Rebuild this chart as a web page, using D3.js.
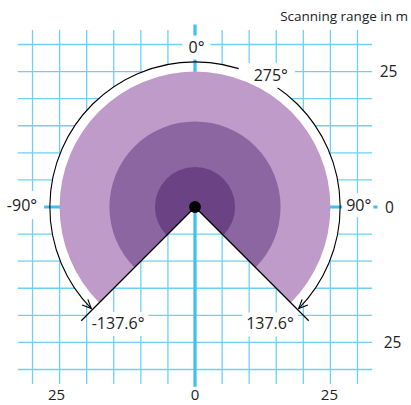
<!DOCTYPE html>
<html>
<head>
<meta charset="utf-8">
<script src="https://cdn.jsdelivr.net/npm/d3@7/dist/d3.min.js"></script>
<style>
  html, body { margin: 0; padding: 0; background: #fff; }
  svg { display: block; }
  text { font-family: "Open Sans", "Noto Sans", sans-serif; fill: #222; }
</style>
</head>
<body>
<svg id="chart" width="411" height="405"></svg>
<script>
// ---------- data (metres / degrees) ----------
const gridTicks = [-30, -25, -20, -15, -10, -5, 0, 5, 10, 15, 20, 25, 30];
const rightLabelValues = [25, 0, -25];
const bottomLabelValues = [-25, 0, 25];
const rangeRadii = [25, 15.8, 7.4];          // outer, middle, inner field (m)
const sectorHalfAngle = 135;                 // drawn opening half-angle (deg)
const angleLabels = ["0°", "275°", "-90°", "90°", "-137.6°", "137.6°"];
const arcRadius = 26.8;                      // dimension arc radius (m)
const edgeLineLength = 29.7;                 // wedge edge line length (m)
const unitLabel = "Scanning range in m";

// ---------- layout ----------
const svg = d3.select("#chart");
const cx = 195, cy = 207, pxPerM = 5.416;
const x = d3.scaleLinear().domain([-30, 30]).range([cx - 30 * pxPerM, cx + 30 * pxPerM]);
const y = d3.scaleLinear().domain([30, -30]).range([cy - 30 * pxPerM, cy + 30 * pxPerM]);
const r = d3.scaleLinear().domain([0, 30]).range([0, 30 * pxPerM]);
const rad = d => d * Math.PI / 180;

const thinColor = "#6fd0f3", thickColor = "#3fc0ef";
const ringColors = ["#bf9bc9", "#8c66a0", "#6b4385"];

// layer order
const gridG = svg.append("g");
const whiteG = svg.append("g").attr("transform", `translate(${x(0)},${y(0)})`);
const thickG = svg.append("g");
const arcG = svg.append("g");
const bgG = svg.append("g");
const sectorG = svg.append("g").attr("transform", `translate(${x(0)},${y(0)})`);
const edgeG = svg.append("g").attr("transform", `translate(${x(0)},${y(0)})`);
const textG = svg.append("g");

// thin grid
const gExt = 32.7;
gridG.selectAll("line.v").data(gridTicks).join("line").attr("class", "v")
  .attr("x1", d => x(d)).attr("x2", d => x(d))
  .attr("y1", y(gExt)).attr("y2", y(-gExt))
  .attr("stroke", thinColor).attr("stroke-width", 1.3);
gridG.selectAll("line.h").data(gridTicks).join("line").attr("class", "h")
  .attr("y1", d => y(d)).attr("y2", d => y(d))
  .attr("x1", x(-gExt)).attr("x2", x(gExt))
  .attr("stroke", thinColor).attr("stroke-width", 1.3);

// white field behind sectors
whiteG.append("path")
  .attr("d", d3.arc()({innerRadius: 0, outerRadius: r(arcRadius),
    startAngle: rad(-sectorHalfAngle), endAngle: rad(sectorHalfAngle)}))
  .attr("fill", "#fff");

// thick axes
thickG.append("line").attr("x1", x(0)).attr("x2", x(0)).attr("y1", y(33.7)).attr("y2", y(-33.2))
  .attr("stroke", thickColor).attr("stroke-width", 3.2);
thickG.append("line").attr("y1", y(0)).attr("y2", y(0)).attr("x1", x(-33.7)).attr("x2", x(33.7))
  .attr("stroke", thickColor).attr("stroke-width", 3.2);

// arrow marker
const defs = svg.append("defs");
defs.append("marker").attr("id", "arr")
  .attr("viewBox", "-10 -6 12 12").attr("refX", 0).attr("refY", 0)
  .attr("markerWidth", 12).attr("markerHeight", 12)
  .attr("markerUnits", "userSpaceOnUse")
  .attr("orient", "auto-start-reverse")
  .append("path").attr("d", "M-9,-4 L0,0 L-9,4")
  .attr("fill", "none").attr("stroke", "#000").attr("stroke-width", 1.1);

// dimension arc
const arcEnd = sectorHalfAngle - 0.6;
const p = d3.path();
const ar = r(arcRadius);
const a0 = rad(-arcEnd - 90), a1 = rad(arcEnd - 90);
p.moveTo(x(0) + ar * Math.cos(a0), y(0) + ar * Math.sin(a0));
p.arc(x(0), y(0), ar, a0, a1, false);
arcG.append("path").attr("d", p.toString())
  .attr("fill", "none").attr("stroke", "#000").attr("stroke-width", 1.1)
  .attr("marker-start", "url(#arr)").attr("marker-end", "url(#arr)");

// sectors
rangeRadii.forEach((rv, i) => {
  sectorG.append("path")
    .attr("d", d3.arc()({innerRadius: 0, outerRadius: r(rv),
      startAngle: rad(-sectorHalfAngle), endAngle: rad(sectorHalfAngle)}))
    .attr("fill", ringColors[i]);
});

// wedge edge lines + centre dot
[-sectorHalfAngle, sectorHalfAngle].forEach(a => {
  edgeG.append("line").attr("x1", 0).attr("y1", 0)
    .attr("x2", r(edgeLineLength) * Math.sin(rad(a)))
    .attr("y2", -r(edgeLineLength) * Math.cos(rad(a)))
    .attr("stroke", "#000").attr("stroke-width", 1.2);
});
edgeG.append("circle").attr("r", 5.9).attr("fill", "#000");

// angle labels with white backgrounds
const labelPos = [[0.28, 29.45], [14.0, 24.4], [-31.94, 0.37], [30.24, 0.37], [-14.2, -21.4], [13.85, -21.5]];
const labelPad = [[6, 6, 1, 1], [15, 7, 1, 2], [4, 7, 3, 3], [4, 2, 1, 1], [4, 4, 0, 2], [4, 4, 0, 2]];
angleLabels.forEach((t, i) => {
  const tx = textG.append("text").attr("x", x(labelPos[i][0])).attr("y", y(labelPos[i][1]))
    .attr("text-anchor", "middle").attr("dominant-baseline", "central")
    .attr("font-size", 16).text(t);
  const b = tx.node().getBBox();
  const pd = labelPad[i];
  bgG.append("rect").attr("x", b.x - pd[0]).attr("y", b.y - pd[2])
    .attr("width", b.width + pd[0] + pd[1]).attr("height", b.height + pd[2] + pd[3])
    .attr("fill", "#fff");
});

// axis labels: right side (y), bottom (x)
textG.append("g").selectAll("text").data(rightLabelValues).join("text")
  .attr("x", (d, i) => [388.5, 389.5, 392.5][i]).attr("y", d => y(d) + 5.5)
  .attr("text-anchor", "middle")
  .attr("font-size", 15.5).text(d => String(Math.abs(d)));
textG.append("g").selectAll("text").data(bottomLabelValues).join("text")
  .attr("x", d => x(d) + (d < 0 ? -3 : d > 0 ? -1 : 0)).attr("y", 400)
  .attr("text-anchor", "middle")
  .attr("font-size", 15).text(d => String(Math.abs(d)));

textG.append("text").attr("x", 408).attr("y", 20.5).attr("text-anchor", "end")
  .attr("font-size", 13.5).text(unitLabel);
</script>
</body>
</html>
